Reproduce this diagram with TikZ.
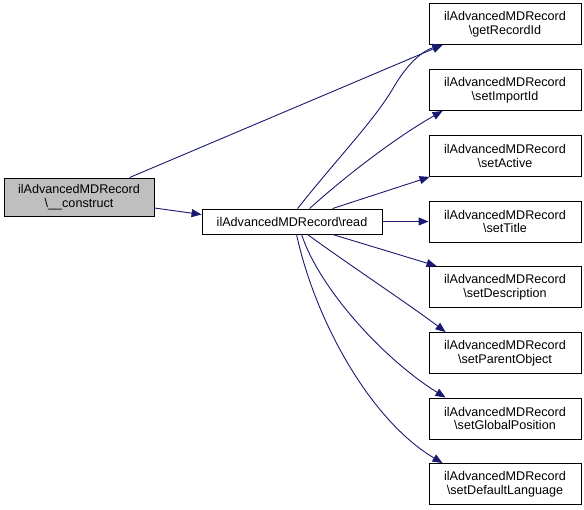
\documentclass[tikz,border=0pt]{standalone}
\usepackage{fontspec}
\setmainfont{Liberation Sans}
\usetikzlibrary{arrows.meta,calc}
\definecolor{edgeblue}{HTML}{191970}
\definecolor{curfill}{HTML}{BFBFBF}
\tikzset{
  box/.style={draw=black, line width=0.9pt, fill=white, align=center, inner sep=0pt,
    font=\fontsize{12.6}{13.6}\selectfont},
  rbox/.style={box, minimum width=152pt, minimum height=41pt},
  edge/.style={draw=edgeblue, line width=0.9pt, -{Triangle[length=10pt,width=8pt]}},
}
\begin{document}
\begin{tikzpicture}[x=1pt,y=-1pt]
\useasboundingbox (0,0) rectangle (584,509);
\node[box, fill=curfill, minimum width=150pt, minimum height=38pt] (cons) at (79,197) {ilAdvancedMDRecord\\\textbackslash\_\_construct};
\node[box, minimum width=180pt, minimum height=25pt] (read) at (292,221.5) {ilAdvancedMDRecord\textbackslash read};
\node[rbox] (get) at (505,24) {ilAdvancedMDRecord\\\textbackslash getRecordId};
\node[rbox] (imp) at (505,90) {ilAdvancedMDRecord\\\textbackslash setImportId};
\node[rbox] (act) at (505,156) {ilAdvancedMDRecord\\\textbackslash setActive};
\node[rbox] (tit) at (505,221.5) {ilAdvancedMDRecord\\\textbackslash setTitle};
\node[rbox] (des) at (505,287) {ilAdvancedMDRecord\\\textbackslash setDescription};
\node[rbox] (par) at (505,353) {ilAdvancedMDRecord\\\textbackslash setParentObject};
\node[rbox] (glo) at (505,418.5) {ilAdvancedMDRecord\\\textbackslash setGlobalPosition};
\node[rbox] (lan) at (505,484) {ilAdvancedMDRecord\\\textbackslash setDefaultLanguage};

\draw[edge] ($(cons.north west)+(126,0)$) -- ($(get.south west)+(14,0)$);
\draw[edge] ($(cons.east)+(0,11)$) -- ($(read.west)+(0,-7)$);
\draw[edge] ($(read.north west)+(96,0)$) .. controls (340,155) and (375,120) .. (395,85)
   .. controls (410,60) and (425,50) .. ($(get.south west)+(14,0)$);
\draw[edge] ($(read.north west)+(108,0)$) .. controls (350,172) and (400,135) .. ($(imp.south west)+(14,0)$);
\draw[edge] ($(read.north west)+(131,0)$) -- ($(act.south west)+(1,0)$);
\draw[edge] (read.east) -- (tit.west);
\draw[edge] ($(read.south west)+(131,0)$) -- ($(des.north west)+(8,0)$);
\draw[edge] ($(read.south west)+(106,0)$) .. controls (345,262) and (410,305) .. ($(par.north west)+(17,0)$);
\draw[edge] ($(read.south west)+(100,0)$) .. controls (320,290) and (385,360) .. ($(glo.north west)+(17,0)$);
\draw[edge] ($(read.south west)+(95,0)$) .. controls (315,320) and (370,420) .. ($(lan.north west)+(14,0)$);
\end{tikzpicture}
\end{document}
